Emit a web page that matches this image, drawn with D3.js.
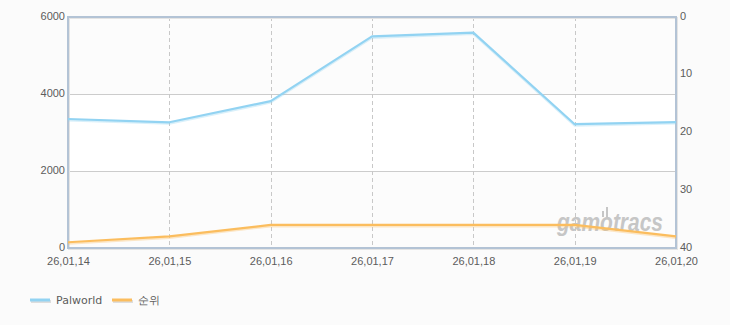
<!DOCTYPE html>
<html>
<head>
<meta charset="utf-8">
<script src="https://cdn.jsdelivr.net/npm/d3@7"></script>
<style>
  html, body { margin: 0; padding: 0; background: #fbfbfb; }
  svg { display: block; font-family: "DejaVu Sans", Verdana, sans-serif; }
</style>
</head>
<body>
<svg id="chart"></svg>
<script>
const WIDTH = 730;
const HEIGHT = 325;
const MARGIN = { top: 17, right: 54, bottom: 77, left: 68 };

const dates = ["26,01,14", "26,01,15", "26,01,16", "26,01,17", "26,01,18", "26,01,19", "26,01,20"];
const palworld = [3350, 3265, 3815, 5495, 5595, 3215, 3270];
const rank = [39, 38, 36, 36, 36, 36, 38];
const leftTicks = [0, 2000, 4000, 6000];
const rightTicks = [0, 10, 20, 30, 40];

const BLUE = "#92d3f2";
const ORANGE = "#fbbd5e";
const FRAME = "#b3c3d5";

const svg = d3.select("#chart").attr("width", WIDTH).attr("height", HEIGHT);

const x = d3.scalePoint()
  .domain(dates)
  .range([MARGIN.left, WIDTH - MARGIN.right]);

const yLeft = d3.scaleLinear()
  .domain([0, 6000])
  .range([HEIGHT - MARGIN.bottom, MARGIN.top]);

const yRight = d3.scaleLinear()
  .domain([0, 40])
  .range([MARGIN.top, HEIGHT - MARGIN.bottom]);

const x0 = MARGIN.left;
const x1 = WIDTH - MARGIN.right;

// alternating bands
svg.append("g")
  .selectAll("rect")
  .data(d3.pairs(leftTicks))
  .join("rect")
  .attr("x", x0)
  .attr("width", x1 - x0)
  .attr("y", d => yLeft(d[1]))
  .attr("height", d => yLeft(d[0]) - yLeft(d[1]))
  .attr("fill", (d, i) => (i % 2 === 1 ? "#ffffff" : "#fcfcfc"));

// horizontal grid
svg.append("g")
  .selectAll("line")
  .data(leftTicks.slice(1, -1))
  .join("line")
  .attr("x1", x0)
  .attr("x2", x1)
  .attr("y1", d => Math.round(yLeft(d)) + 0.5)
  .attr("y2", d => Math.round(yLeft(d)) + 0.5)
  .attr("stroke", "#cccccc");

// vertical dashed grid
svg.append("g")
  .selectAll("line")
  .data(dates.slice(1, -1))
  .join("line")
  .attr("x1", d => Math.round(x(d)) + 0.5)
  .attr("x2", d => Math.round(x(d)) + 0.5)
  .attr("y1", MARGIN.top)
  .attr("y2", HEIGHT - MARGIN.bottom)
  .attr("stroke", "#c8c8c8")
  .attr("stroke-dasharray", "4,3");

// watermark
const wm = svg.append("g").attr("fill", "#c6c6c6");
wm.append("text")
  .attr("x", 557)
  .attr("y", 231)
  .attr("font-size", 25)
  .attr("font-weight", "bold")
  .attr("font-style", "italic")
  .attr("textLength", 106)
  .attr("lengthAdjust", "spacingAndGlyphs")
  .attr("font-family", "Liberation Sans, Arial, sans-serif")
  .text("gamotracs");
wm.append("rect").attr("x", 602).attr("y", 211).attr("width", 2).attr("height", 6);
wm.append("rect").attr("x", 606).attr("y", 207).attr("width", 2).attr("height", 10);

// frame
const frame = svg.append("g").attr("fill", "none");
frame.append("rect")
  .attr("x", x0 + 1)
  .attr("y", MARGIN.top + 1)
  .attr("width", x1 - x0)
  .attr("height", HEIGHT - MARGIN.bottom - MARGIN.top)
  .attr("stroke", "#e4e4e4")
  .attr("stroke-width", 2);
frame.append("rect")
  .attr("x", x0)
  .attr("y", MARGIN.top)
  .attr("width", x1 - x0)
  .attr("height", HEIGHT - MARGIN.bottom - MARGIN.top)
  .attr("stroke", FRAME)
  .attr("stroke-width", 2);

// lines
const series = [
  { values: palworld, y: yLeft, color: BLUE },
  { values: rank, y: yRight, color: ORANGE }
];

series.forEach(s => {
  const line = d3.line()
    .x((d, i) => x(dates[i]))
    .y(d => s.y(d));
  svg.append("path")
    .datum(s.values)
    .attr("d", line)
    .attr("fill", "none")
    .attr("stroke", s.color)
    .attr("stroke-opacity", 0.35)
    .attr("stroke-width", 2)
    .attr("transform", "translate(0,1.5)");
  svg.append("path")
    .datum(s.values)
    .attr("d", line)
    .attr("fill", "none")
    .attr("stroke", s.color)
    .attr("stroke-width", 2.2)
    .attr("stroke-linejoin", "round");
});

// axes
const textColor = "#5c5c5c";

const leftAxis = svg.append("g")
  .attr("transform", `translate(${x0},0)`)
  .call(d3.axisLeft(yLeft).tickValues(leftTicks).tickSize(0).tickPadding(3).tickFormat(d3.format("d")));
leftAxis.select(".domain").remove();
leftAxis.selectAll("text").attr("fill", textColor).attr("font-size", 11).attr("dy", "0.2em");

const rightAxis = svg.append("g")
  .attr("transform", `translate(${x1},0)`)
  .call(d3.axisRight(yRight).tickValues(rightTicks).tickSize(0).tickPadding(4));
rightAxis.select(".domain").remove();
rightAxis.selectAll("text").attr("fill", textColor).attr("font-size", 11).attr("dy", "0.2em");

const bottomAxis = svg.append("g")
  .attr("transform", `translate(0,${HEIGHT - MARGIN.bottom})`)
  .call(d3.axisBottom(x).tickSize(0).tickPadding(9));
bottomAxis.select(".domain").remove();
bottomAxis.selectAll("text").attr("fill", textColor).attr("font-size", 11);

// legend
const legendItems = [
  { name: "Palworld", color: BLUE, x: 30 },
  { name: "순위", color: ORANGE, x: 112 }
];

const legend = svg.append("g")
  .selectAll("g")
  .data(legendItems)
  .join("g")
  .attr("transform", d => `translate(${d.x},300)`);

legend.append("line")
  .attr("x1", 1).attr("x2", 21)
  .attr("y1", 1.5).attr("y2", 1.5)
  .attr("stroke", "#dddddd")
  .attr("stroke-width", 3);
legend.append("line")
  .attr("x1", 0).attr("x2", 20)
  .attr("y1", 0).attr("y2", 0)
  .attr("stroke", d => d.color)
  .attr("stroke-width", 3);
legend.append("text")
  .attr("x", 26)
  .attr("y", 4)
  .attr("font-size", 11)
  .attr("fill", textColor)
  .text(d => d.name);
</script>
</body>
</html>
